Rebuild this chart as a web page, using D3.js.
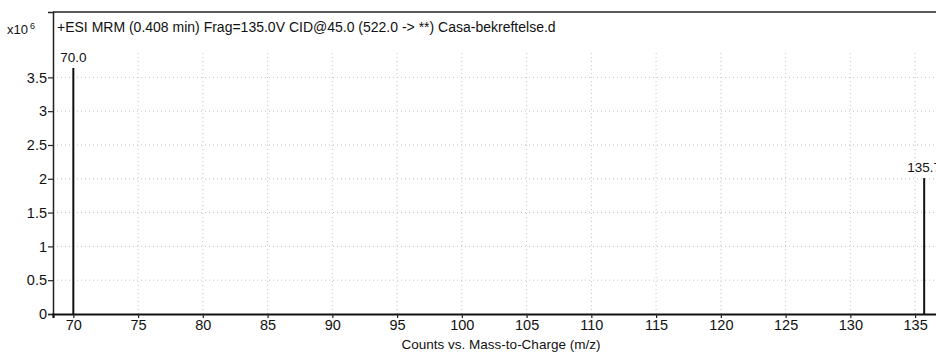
<!DOCTYPE html>
<html><head><meta charset="utf-8">
<script src="https://cdn.jsdelivr.net/npm/d3@7"></script>
<style>body{margin:0;background:#fff;overflow:hidden}svg{display:block}text{font-family:"Liberation Sans",Arial,sans-serif;fill:#111}</style>
</head><body><svg id="c" width="936" height="353"></svg>
<script>
const peakMz = [70.0, 135.7];
const peakCounts = [3.64, 2.01]; // x10^6
const peakLabels = ["70.0", "135.7"];
const xTicks = [70,75,80,85,90,95,100,105,110,115,120,125,130,135];
const yTicks = [0,0.5,1,1.5,2,2.5,3,3.5];
const yTickLabels = ["0","0.5","1","1.5","2","2.5","3","3.5"];
const title = "+ESI MRM (0.408 min) Frag=135.0V CID@45.0 (522.0 -> **) Casa-bekreftelse.d";
const xLabel = "Counts vs. Mass-to-Charge (m/z)";

const svg = d3.select("#c");
const L = 53, T = 12, R = 941, B = 314;
const x = d3.scaleLinear().domain([68.43, 137.0]).range([L, R]);
const y = d3.scaleLinear().domain([0, 4.467]).range([B, T]);

// grid
svg.append("g").selectAll("line").data(yTicks.slice(1)).join("line")
  .attr("x1", L).attr("x2", R).attr("y1", d => y(d)).attr("y2", d => y(d))
  .attr("stroke", "#c4c4c4").attr("stroke-width", 1).attr("stroke-dasharray", "1,3");
svg.append("g").selectAll("line").data(xTicks).join("line")
  .attr("x1", d => x(d)).attr("x2", d => x(d)).attr("y1", B).attr("y2", y(3.9))
  .attr("stroke", "#c4c4c4").attr("stroke-width", 1).attr("stroke-dasharray", "1,3");

// frame
svg.append("line").attr("x1", L).attr("x2", R).attr("y1", T).attr("y2", T).attr("stroke", "#222").attr("stroke-width", 1.5);

const yAxis = d3.axisLeft(y).tickValues(yTicks).tickFormat((d,i) => yTickLabels[i]).tickSize(5).tickPadding(1);
const gy = svg.append("g").attr("transform", `translate(${L},0)`).call(yAxis);
gy.select(".domain").attr("stroke", "#222").attr("stroke-width", 1.5);
gy.selectAll(".tick line").attr("stroke", "#222").attr("stroke-width", 1.2);
gy.selectAll(".tick text").style("font-size", "14.5px").attr("fill", "#111");

const xAxis = d3.axisBottom(x).tickValues(xTicks).tickSize(4).tickPadding(2);
const gx = svg.append("g").attr("transform", `translate(0,${B})`).call(xAxis);
gx.select(".domain").attr("stroke", "#111").attr("stroke-width", 2.2);
gx.selectAll(".tick line").attr("stroke", "#222").attr("stroke-width", 1.2);
gx.selectAll(".tick text").style("font-size", "14.5px").attr("fill", "#111");

// peaks
svg.append("g").selectAll("line").data(peakMz).join("line")
  .attr("x1", d => x(d)).attr("x2", d => x(d))
  .attr("y1", B).attr("y2", (d,i) => y(peakCounts[i]))
  .attr("stroke", "#111").attr("stroke-width", 2);
svg.append("g").selectAll("text").data(peakMz).join("text")
  .attr("x", d => x(d)).attr("y", (d,i) => y(peakCounts[i]) - 6)
  .attr("text-anchor", "middle").style("font-size", "13.5px")
  .text((d,i) => peakLabels[i]);

// title and exponent
svg.append("text").attr("x", 57).attr("y", 32).style("font-size", "14px").text(title);
const ex = svg.append("text").attr("x", 7).attr("y", 34).style("font-size", "13px");
ex.append("tspan").text("x10");
ex.append("tspan").attr("dy", -5).attr("dx", 2).style("font-size", "9px").text("6");

svg.append("text").attr("x", 501).attr("y", 349).attr("text-anchor", "middle").style("font-size", "13.5px").text(xLabel);
</script></body></html>
